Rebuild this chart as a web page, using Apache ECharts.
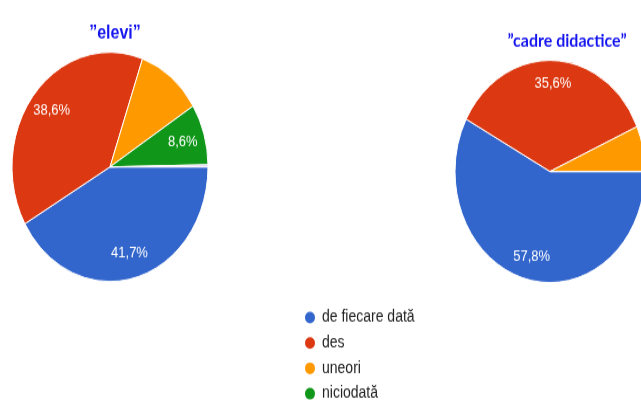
<!DOCTYPE html>
<html>
<head>
<meta charset="utf-8">
<script src="https://cdn.jsdelivr.net/npm/echarts@6/dist/echarts.min.js"></script>
<style>
  html, body { margin: 0; padding: 0; background: #fff; overflow: hidden; }
  #wrap { width: 641px; height: 400px; overflow: hidden; }
  /* the reference is a vertically stretched screenshot */
  #chart { width: 641px; height: 370px; transform: scaleY(1.1696); transform-origin: 0 0; }
</style>
</head>
<body>
<div id="wrap"><div id="chart"></div></div>
<script>
  // categories (legend order)
  const categories = ['de fiecare dată', 'des', 'uneori', 'niciodată'];
  const colors = ['#3366cc', '#dc3912', '#ff9900', '#109618'];

  // percentages
  const eleviValues = [41.7, 38.6, 10.7, 8.6];
  const eleviSliver = 0.3;   // thin lavender slice next to the blue one
  const cadreValues = [57.8, 35.6, 6.6, 0];

  const noLabel = ['uneori', ''];

  var chartDom = document.getElementById('chart');
  var myChart = echarts.init(chartDom);

  function pieData(values, sliver) {
    let data = [];
    for (let i = 0; i < categories.length; i++) {
      data.push({ name: categories[i], value: values[i], itemStyle: { color: colors[i] } });
    }
    if (sliver) {
      data.push({ name: '', value: sliver, itemStyle: { color: '#d8c3ea' } });
    }
    return data;
  }

  function fmt(p) {
    if (noLabel.indexOf(p.name) >= 0 || !p.value) return '';
    return p.value.toFixed(1).replace('.', ',') + '%';
  }

  function pieSeries(values, sliver, center, r, labelR0) {
    return [
      {
        type: 'pie',
        center: center,
        radius: [0, r],
        startAngle: 0,
        clockwise: true,
        silent: true,
        label: { show: false },
        labelLine: { show: false },
        itemStyle: { borderColor: '#fff', borderWidth: 1 },
        data: pieData(values, sliver)
      },
      {
        // label layer, so the text sits at ~3/4 of the radius
        type: 'pie',
        center: center,
        radius: [labelR0, r],
        startAngle: 0,
        clockwise: true,
        silent: true,
        legendHoverLink: false,
        itemStyle: { color: 'transparent', borderWidth: 0 },
        label: {
          show: true,
          position: 'inside',
          formatter: fmt,
          color: '#fff',
          fontSize: 13,
          fontFamily: 'Liberation Sans, Arial, sans-serif'
        },
        labelLine: { show: false },
        data: pieData(values, sliver).map(d => ({ name: d.name, value: d.value }))
      }
    ];
  }

  let option = {
    animation: false,
    title: [
      {
        text: '\u201Delevi\u201D',
        left: 110, top: 16, textAlign: 'center',
        textStyle: { color: '#1414ee', fontSize: 16, fontWeight: 'bold', fontFamily: 'Liberation Sans, Arial, sans-serif' }
      },
      {
        text: '\u201Dcadre didactice\u201D',
        left: 562, top: 22, textAlign: 'center',
        textStyle: { color: '#1414ee', fontSize: 16, fontWeight: 'bold', fontFamily: 'Lato, sans-serif' }
      }
    ],
    legend: {
      data: categories,
      orient: 'vertical',
      left: 298,
      top: 259.5,
      itemWidth: 14,
      itemHeight: 12,
      itemGap: 7.7,
      icon: 'path://M50,0A50,50,0,1,1,50,100A50,50,0,1,1,50,0Z',
      selectedMode: false,
      textStyle: { color: '#222', fontSize: 14, fontFamily: 'Liberation Sans, Arial, sans-serif' }
    },
    series: [].concat(
      pieSeries(eleviValues, eleviSliver, [110, 142.7], 98, 48),
      pieSeries(cadreValues, 0, [550, 146.6], 95, 50)
    )
  };

  myChart.setOption(option);
</script>
</body>
</html>
